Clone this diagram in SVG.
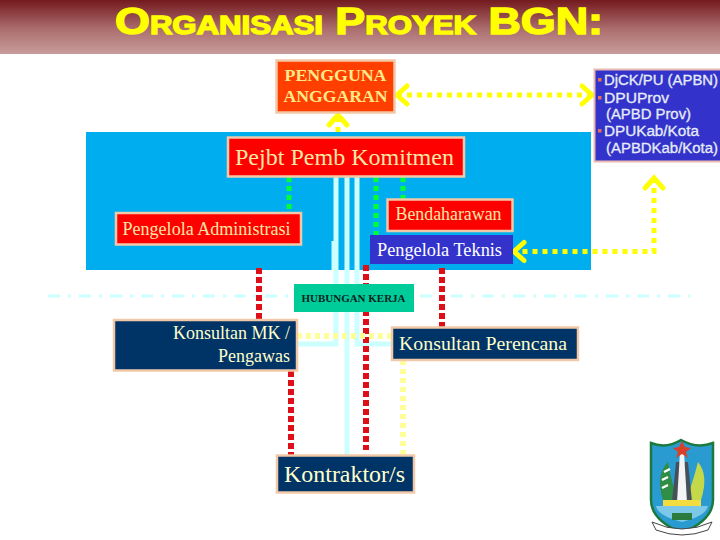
<svg xmlns="http://www.w3.org/2000/svg" width="720" height="540" viewBox="0 0 720 540">
<defs>
<linearGradient id="band" x1="0" y1="0" x2="0" y2="1"><stop offset="0" stop-color="#741a1e"/><stop offset="0.55" stop-color="#ad6f70"/><stop offset="1" stop-color="#c79b9b"/></linearGradient>
<marker id="chev" markerUnits="userSpaceOnUse" markerWidth="28" markerHeight="28" refX="16" refY="14" orient="auto-start-reverse"><path d="M6 5 L16 14 L6 23" fill="none" stroke="#ffff00" stroke-width="5" stroke-linecap="round" stroke-linejoin="miter"/></marker>
</defs>
<style>
.s{font-family:"Liberation Serif","Times New Roman",serif}
.box{stroke:#f2c9a8;stroke-width:2.5}
.red{fill:#ff0000}.navy{fill:#003366}
.cream{fill:#ffffcc}
.warm{fill:#fbe7a6}
.g{fill:none;stroke:#00ff33;stroke-width:5;stroke-dasharray:5 4}
.c{fill:none;stroke:#ccffff;stroke-width:5}
.r{fill:none;stroke:#dd0f18;stroke-width:6;stroke-dasharray:6 3}
.py{fill:none;stroke:#ffff99;stroke-width:6;stroke-dasharray:5 4}
.y{fill:none;stroke:#ffff00;stroke-width:5;stroke-dasharray:5 5}
.side{font-family:"Liberation Sans",Arial,sans-serif;font-size:14px;fill:#e6ecf6;stroke:#e6ecf6;stroke-width:0.3}
</style>
<rect width="720" height="540" fill="#ffffff"/>
<rect id="band-top" width="720" height="54" fill="url(#band)"/>
<text x="359" y="34" text-anchor="middle" textLength="488" lengthAdjust="spacingAndGlyphs" font-family="'Liberation Sans',Arial,sans-serif" font-size="36" font-weight="bold" style="font-variant:small-caps" fill="#ffff00" stroke="#ffff00" stroke-width="1.4">Organisasi Proyek BGN:</text>
<rect id="panel" x="86" y="132" width="505" height="138" fill="#00aeef"/>
<path d="M48 296H690" fill="none" stroke="#ccffff" stroke-width="3" stroke-dasharray="12 8 3 8"/>
<g id="connectors">
<path class="g" d="M289 177V212"/><path class="g" d="M376 177V235"/><path class="g" d="M403 177V199"/>
<path class="c" d="M336 177V344H297"/><path class="c" d="M347 177V455"/><path class="c" d="M357 177V344H391"/>
<path class="c" d="M334 241V270"/>
<path class="r" d="M259 268V319"/><path class="r" d="M291 371V455"/><path class="r" d="M366 265V450"/><path class="r" d="M442 268V327"/>
<path class="py" d="M297 336H391"/><path class="py" d="M403 360V455"/>
<path class="y" d="M397 95H592" marker-start="url(#chev)" marker-end="url(#chev)"/>
<path class="y" d="M338 132V115" marker-end="url(#chev)"/>
<path class="y" d="M654 178V251.500H514" marker-start="url(#chev)" marker-end="url(#chev)"/>
</g>
<g id="pengguna"><rect class="box" x="276.500" y="60.500" width="118" height="52" fill="#ff3f00"/>
<text class="s" fill="#ffe98a" x="335.500" y="81" text-anchor="middle" font-size="17" font-weight="bold" textLength="102" lengthAdjust="spacingAndGlyphs">PENGGUNA</text><text class="s" fill="#ffe98a" x="335.500" y="102" text-anchor="middle" font-size="17" font-weight="bold" textLength="104" lengthAdjust="spacingAndGlyphs">ANGGARAN</text></g>
<g id="sumber"><rect x="594.500" y="69.500" width="127" height="92" fill="#3333cc" stroke="#eab9b0" stroke-width="2"/>
<rect x="598" y="78" width="3.500" height="3.500" fill="#e2705a"/><text class="side" x="604" y="85" textLength="114" lengthAdjust="spacingAndGlyphs">DjCK/PU (APBN)</text>
<rect x="598" y="96" width="3.500" height="3.500" fill="#e2705a"/><text class="side" x="604" y="103" textLength="65" lengthAdjust="spacingAndGlyphs">DPUProv</text>
<text class="side" x="606" y="119" textLength="85" lengthAdjust="spacingAndGlyphs">(APBD Prov)</text>
<rect x="598" y="129" width="3.500" height="3.500" fill="#e2705a"/><text class="side" x="604" y="136" textLength="95" lengthAdjust="spacingAndGlyphs">DPUKab/Kota</text>
<text class="side" x="606" y="153" textLength="112" lengthAdjust="spacingAndGlyphs">(APBDKab/Kota)</text></g>
<g id="ppk"><rect class="box red" x="228" y="137.500" width="236" height="39"/><text class="s warm" x="344.500" y="165" text-anchor="middle" font-size="24" textLength="219" lengthAdjust="spacingAndGlyphs">Pejbt Pemb Komitmen</text></g>
<g id="admin"><rect class="box red" x="116" y="213" width="185" height="31.500"/><text class="s warm" x="206.500" y="235" text-anchor="middle" font-size="18" textLength="168" lengthAdjust="spacingAndGlyphs">Pengelola Administrasi</text></g>
<g id="bendahara"><rect class="box red" x="387.500" y="199.500" width="125" height="31.500"/><text class="s warm" x="448.500" y="220" text-anchor="middle" font-size="18" textLength="106" lengthAdjust="spacingAndGlyphs">Bendaharawan</text></g>
<g id="teknis"><rect x="370" y="235" width="143" height="29" fill="#3333cc"/><text class="s" x="439.500" y="256" text-anchor="middle" font-size="18" fill="#ffffff" textLength="125" lengthAdjust="spacingAndGlyphs">Pengelola Teknis</text></g>
<g id="hubungan"><rect x="294" y="284" width="120" height="28" fill="#00cc99"/><text class="s" x="353.500" y="302" text-anchor="middle" font-size="10.500" font-weight="bold" fill="#06241e" textLength="104" lengthAdjust="spacingAndGlyphs">HUBUNGAN KERJA</text></g>
<g id="mk"><rect class="box navy" x="114" y="320" width="183" height="50.500"/><text class="s cream" x="290" y="339" text-anchor="end" font-size="18">Konsultan MK /</text><text class="s cream" x="290" y="362" text-anchor="end" font-size="18">Pengawas</text></g>
<g id="perencana"><rect class="box navy" x="392" y="327.500" width="186" height="32.500"/><text class="s cream" x="483" y="350" text-anchor="middle" font-size="18.500" textLength="168" lengthAdjust="spacingAndGlyphs">Konsultan Perencana</text></g>
<g id="kontraktor"><rect class="box navy" x="277" y="455.500" width="137" height="37"/><text class="s cream" x="344.500" y="482" text-anchor="middle" font-size="24" textLength="121" lengthAdjust="spacingAndGlyphs">Kontraktor/s</text></g>
<g id="emblem">
<path d="M651 443Q666 449 681 440Q697 449 713 443V500Q713 520 682 533Q651 520 651 500Z" fill="#2a9bd0" stroke="#1a7a3c" stroke-width="2.500"/>
<path d="M663 500Q655 475 668 462Q672 485 678 500Z" fill="#2f8d45"/>
<path d="M662 488l6-3M662 480l6-3M664 472l6-3" stroke="#ffffff" stroke-width="2.500"/>
<path d="M701 500Q709 475 698 462Q692 485 686 500Z" fill="#c5d84a"/>
<path d="M676 462H688L692 502H672Z" fill="#45505a"/>
<path d="M680 452H684L687 502H677Z" fill="#f4f4f4"/>
<path d="M682 441L685 447L691 448L686 452L688 458L682 454L676 458L678 452L673 448L679 447Z" fill="#d8402a"/>
<rect x="663" y="500" width="38" height="6" fill="#f2dc40"/>
<path d="M656 506H708Q706 516 682 522Q658 516 656 506Z" fill="#7cc8e8"/>
<path d="M672 513H692V520H672Z" fill="#2b7a3e"/>
<path d="M652 522Q682 536 712 522L708 530Q682 540 656 530Z" fill="#ffffff" stroke="#444" stroke-width="1"/>
</g>
</svg>
